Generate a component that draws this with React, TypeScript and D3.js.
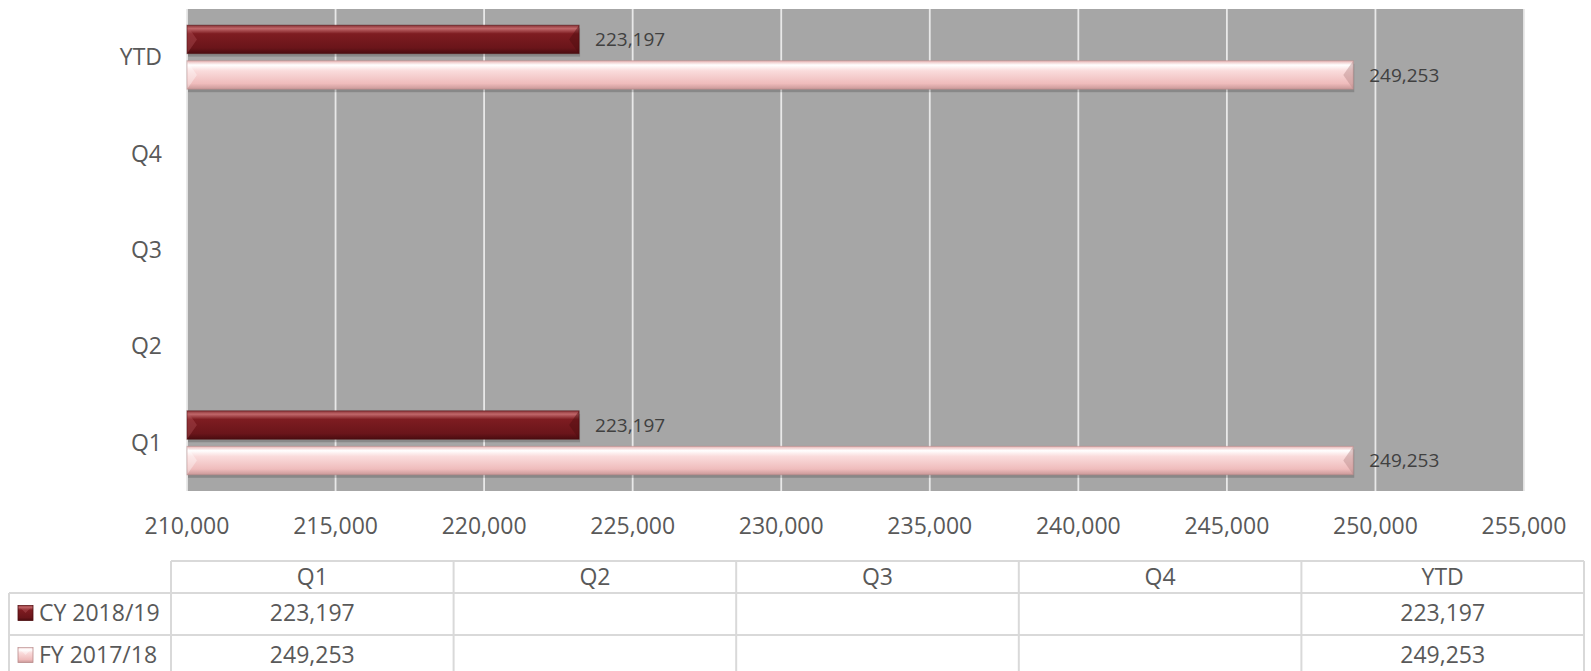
import React from "react";
import * as d3 from "d3";

const categories = ["Q1", "Q2", "Q3", "Q4", "YTD"];
const seriesNames = ["CY 2018/19", "FY 2017/18"];
const cyValues: (number | null)[] = [223197, null, null, null, 223197];
const fyValues: (number | null)[] = [249253, null, null, null, 249253];
const xTicks = [210000, 215000, 220000, 225000, 230000, 235000, 240000, 245000, 250000, 255000];

const W = 1591;
const H = 671;
const plot = { left: 187, right: 1524, top: 9, bottom: 491 };
const FONT = "'Open Sans', 'Liberation Sans', sans-serif";
const fmt = d3.format(",");

const seriesStyle = [
  { key: "cy", values: cyValues, grad: "gCY", dark: "#4d0d10", light: "#b85a5e", base: "#721a1e" },
  { key: "fy", values: fyValues, grad: "gFY", dark: "#b88a8a", light: "#ffffff", base: "#f0c0c0" },
];

function Bar({ x0, x1, y, h, s }: any) {
  const b = Math.min(10, h * 0.35);
  const ym = y + h / 2;
  return (
    <g>
      <rect x={x0 + 1} y={y + 3} width={x1 - x0} height={h} fill="#000" opacity={0.18} />
      <rect x={x0} y={y} width={x1 - x0} height={h} fill={`url(#${s.grad})`} />
      <polygon points={`${x0},${y} ${x0 + b},${ym} ${x0},${y + h}`} fill={s.light} opacity={0.35} />
      <polygon points={`${x1},${y} ${x1 - b},${ym} ${x1},${y + h}`} fill={s.dark} opacity={0.45} />
      <rect x={x0} y={y} width={x1 - x0} height={h} fill="none" stroke={s.dark} strokeOpacity={0.5} strokeWidth={1} />
    </g>
  );
}

export default function App() {
  const x = d3.scaleLinear().domain([210000, 255000]).range([plot.left, plot.right]);
  const y = d3.scaleBand().domain([...categories].reverse()).range([plot.top, plot.bottom]);
  const groupH = 64;
  const inner = d3.scaleBand().domain(seriesNames).range([0, groupH]).paddingInner(0.2);

  const tableLeft = 171;
  const tableRight = 1584;
  const colW = (tableRight - tableLeft) / categories.length;
  const rowY = [561, 593, 635, 677];
  const legendLeft = 9;
  const lineColor = "#d9d9d9";
  const textColor = "#595959";

  return (
    <div style={{ position: "absolute", left: 0, top: 0 }}>
      <svg width={W} height={H} style={{ display: "block" }}>
        <defs>
          <linearGradient id="gCY" x1="0" y1="0" x2="0" y2="1">
            <stop offset="0" stopColor="#8a3236" />
            <stop offset="0.12" stopColor="#c0676a" />
            <stop offset="0.3" stopColor="#7e1c21" />
            <stop offset="0.8" stopColor="#6a151a" />
            <stop offset="1" stopColor="#4a0c10" />
          </linearGradient>
          <linearGradient id="gFY" x1="0" y1="0" x2="0" y2="1">
            <stop offset="0" stopColor="#e8b4b4" />
            <stop offset="0.15" stopColor="#ffffff" />
            <stop offset="0.35" stopColor="#fadcdc" />
            <stop offset="0.8" stopColor="#efbcbc" />
            <stop offset="1" stopColor="#c99898" />
          </linearGradient>
        </defs>
        <rect x="0" y="0" width={W} height={H} fill="#fff" />
        <rect x={plot.left} y={plot.top} width={plot.right - plot.left} height={plot.bottom - plot.top} fill="#a6a6a6" />
        {xTicks.map((t) => (
          <line key={t} x1={x(t)} x2={x(t)} y1={plot.top} y2={plot.bottom} stroke="#e8e8e8" strokeWidth={1.8} />
        ))}
        {categories.map((c) => {
          const by = y(c)! + y.bandwidth() / 2 - groupH / 2;
          return seriesStyle.map((s, i) => {
            const v = s.values[categories.indexOf(c)];
            if (v == null) return null;
            const yy = by + inner(seriesNames[i])!;
            const h = inner.bandwidth();
            return (
              <g key={c + s.key}>
                <Bar x0={x(210000)} x1={x(v)} y={yy} h={h} s={s} />
                <text x={x(v) + 16} y={yy + h / 2} dy="0.35em" fontFamily={FONT} fontSize={19} fill="#404040">
                  {fmt(v)}
                </text>
              </g>
            );
          });
        })}
        {categories.map((c) => (
          <text key={c} x={162} y={y(c)! + y.bandwidth() / 2} dy="0.35em" textAnchor="end" fontFamily={FONT} fontSize={23} fill={textColor}>
            {c}
          </text>
        ))}
        {xTicks.map((t) => (
          <text key={t} x={x(t)} y={534} textAnchor="middle" fontFamily={FONT} fontSize={23} fill={textColor}>
            {fmt(t)}
          </text>
        ))}
        {/* data table */}
        <g stroke={lineColor} strokeWidth={2} fill="none">
          <line x1={tableLeft} x2={tableRight} y1={rowY[0]} y2={rowY[0]} />
          <line x1={legendLeft} x2={tableRight} y1={rowY[1]} y2={rowY[1]} />
          <line x1={legendLeft} x2={tableRight} y1={rowY[2]} y2={rowY[2]} />
          <line x1={legendLeft} x2={tableRight} y1={rowY[3]} y2={rowY[3]} />
          <line x1={legendLeft} x2={legendLeft} y1={rowY[1]} y2={rowY[3]} />
          {d3.range(categories.length + 1).map((i) => (
            <line key={i} x1={tableLeft + i * colW} x2={tableLeft + i * colW} y1={rowY[0]} y2={rowY[3]} />
          ))}
        </g>
        {categories.map((c, i) => (
          <text key={"h" + c} x={tableLeft + (i + 0.5) * colW} y={(rowY[0] + rowY[1]) / 2} dy="0.35em" textAnchor="middle" fontFamily={FONT} fontSize={23} fill={textColor}>
            {c}
          </text>
        ))}
        {seriesStyle.map((s, r) => {
          const cy = r === 0 ? 613 : 655;
          return (
            <g key={"row" + s.key}>
              <rect x={18} y={cy - 7.5} width={15} height={15} fill={`url(#${s.grad})`} stroke={s.dark} strokeWidth={0.8} />
              <polygon points={`${18},${cy - 7.5} ${25.5},${cy} ${33},${cy - 7.5}`} fill={s.light} opacity={0.4} />
              <text x={39} y={cy} dy="0.35em" fontFamily={FONT} fontSize={23} fill={textColor}>
                {seriesNames[r]}
              </text>
              {s.values.map((v, i) =>
                v == null ? null : (
                  <text key={i} x={tableLeft + (i + 0.5) * colW} y={cy} dy="0.35em" textAnchor="middle" fontFamily={FONT} fontSize={23} fill={textColor}>
                    {fmt(v)}
                  </text>
                )
              )}
            </g>
          );
        })}
      </svg>
    </div>
  );
}
